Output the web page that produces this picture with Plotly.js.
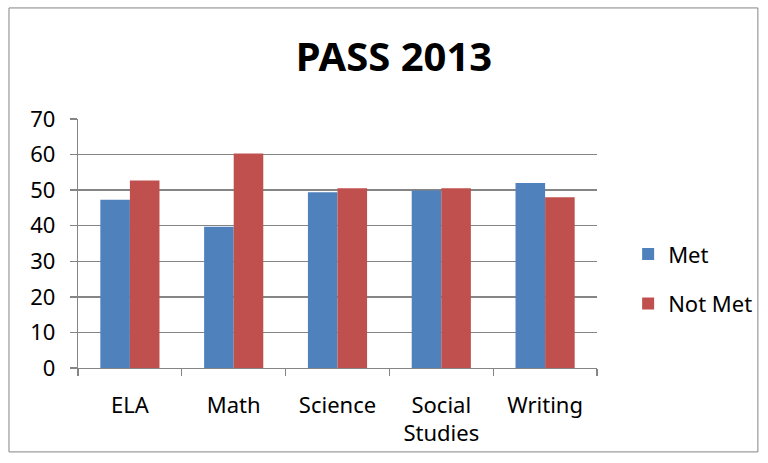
<!DOCTYPE html>
<html>
<head>
<meta charset="utf-8">
<script src="https://cdn.plot.ly/plotly-3.0.1.min.js"></script>
<style>html,body{margin:0;padding:0;background:#fff;}#chart{width:768px;height:463px;}</style>
</head>
<body>
<div id="chart"></div>
<script>
const categories = ["ELA", "Math", "Science", "Social<br>Studies", "Writing"];
const metValues = [47.3, 39.7, 49.4, 49.9, 52.0];
const notMetValues = [52.7, 60.3, 50.5, 50.5, 48.0];
const yTickVals = [0, 10, 20, 30, 40, 50, 60, 70];

const FONT = "'Noto Sans', 'Open Sans', sans-serif";
const GRID = "#858585";

const traces = [
  {type: "bar", name: "Met", x: categories, y: metValues, marker: {color: "#4F81BD"}, legendgroup: "a"},
  {type: "bar", name: "Not Met", x: categories, y: notMetValues, marker: {color: "#C0504D"}, legendgroup: "b"}
];

const layout = {
  width: 768, height: 463,
  margin: {l: 78, r: 171, t: 119, b: 95, autoexpand: false},
  paper_bgcolor: "#fff", plot_bgcolor: "#fff",
  font: {family: FONT, size: 22, color: "#000"},
  title: {text: "<b>PASS 2013</b>", font: {family: FONT, size: 40, color: "#000"},
          xref: "container", x: 0.513, xanchor: "center", yref: "container", y: 0.877, yanchor: "middle"},
  barmode: "group", bargap: 0.43, bargroupgap: 0,
  showlegend: true,
  legend: {x: 1.06, xanchor: "left", y: 0.357, yanchor: "middle", font: {family: FONT, size: 22, color: "#000"},
           tracegroupgap: 18, traceorder: "grouped", bgcolor: "rgba(0,0,0,0)"},
  xaxis: {type: "category", showgrid: false, showline: true, linecolor: GRID, linewidth: 1.3,
          ticks: "outside", tickson: "boundaries", ticklen: 7, tickcolor: GRID, tickwidth: 1.3,
          ticklabelstandoff: 17, tickfont: {family: FONT, size: 22, color: "#000"}, fixedrange: true},
  yaxis: {range: [0, 70], tickvals: yTickVals, ticktext: yTickVals.map(String), showgrid: true, gridcolor: GRID, gridwidth: 1.3,
          zeroline: false, showline: true, linecolor: GRID, linewidth: 1.3,
          ticks: "outside", ticklen: 7, tickcolor: GRID, tickwidth: 1.3, ticklabelstandoff: 10,
          tickfont: {family: FONT, size: 22, color: "#000"}, fixedrange: true},
  shapes: [
    {type: "rect", xref: "paper", yref: "paper", x0: -0.133, x1: 1.310, y0: -0.337, y1: 1.446,
     line: {color: "#858585", width: 1}, fillcolor: "rgba(0,0,0,0)", layer: "below"}
  ]
};

Plotly.newPlot("chart", traces, layout, {displayModeBar: false, staticPlot: true});
</script>
</body>
</html>
